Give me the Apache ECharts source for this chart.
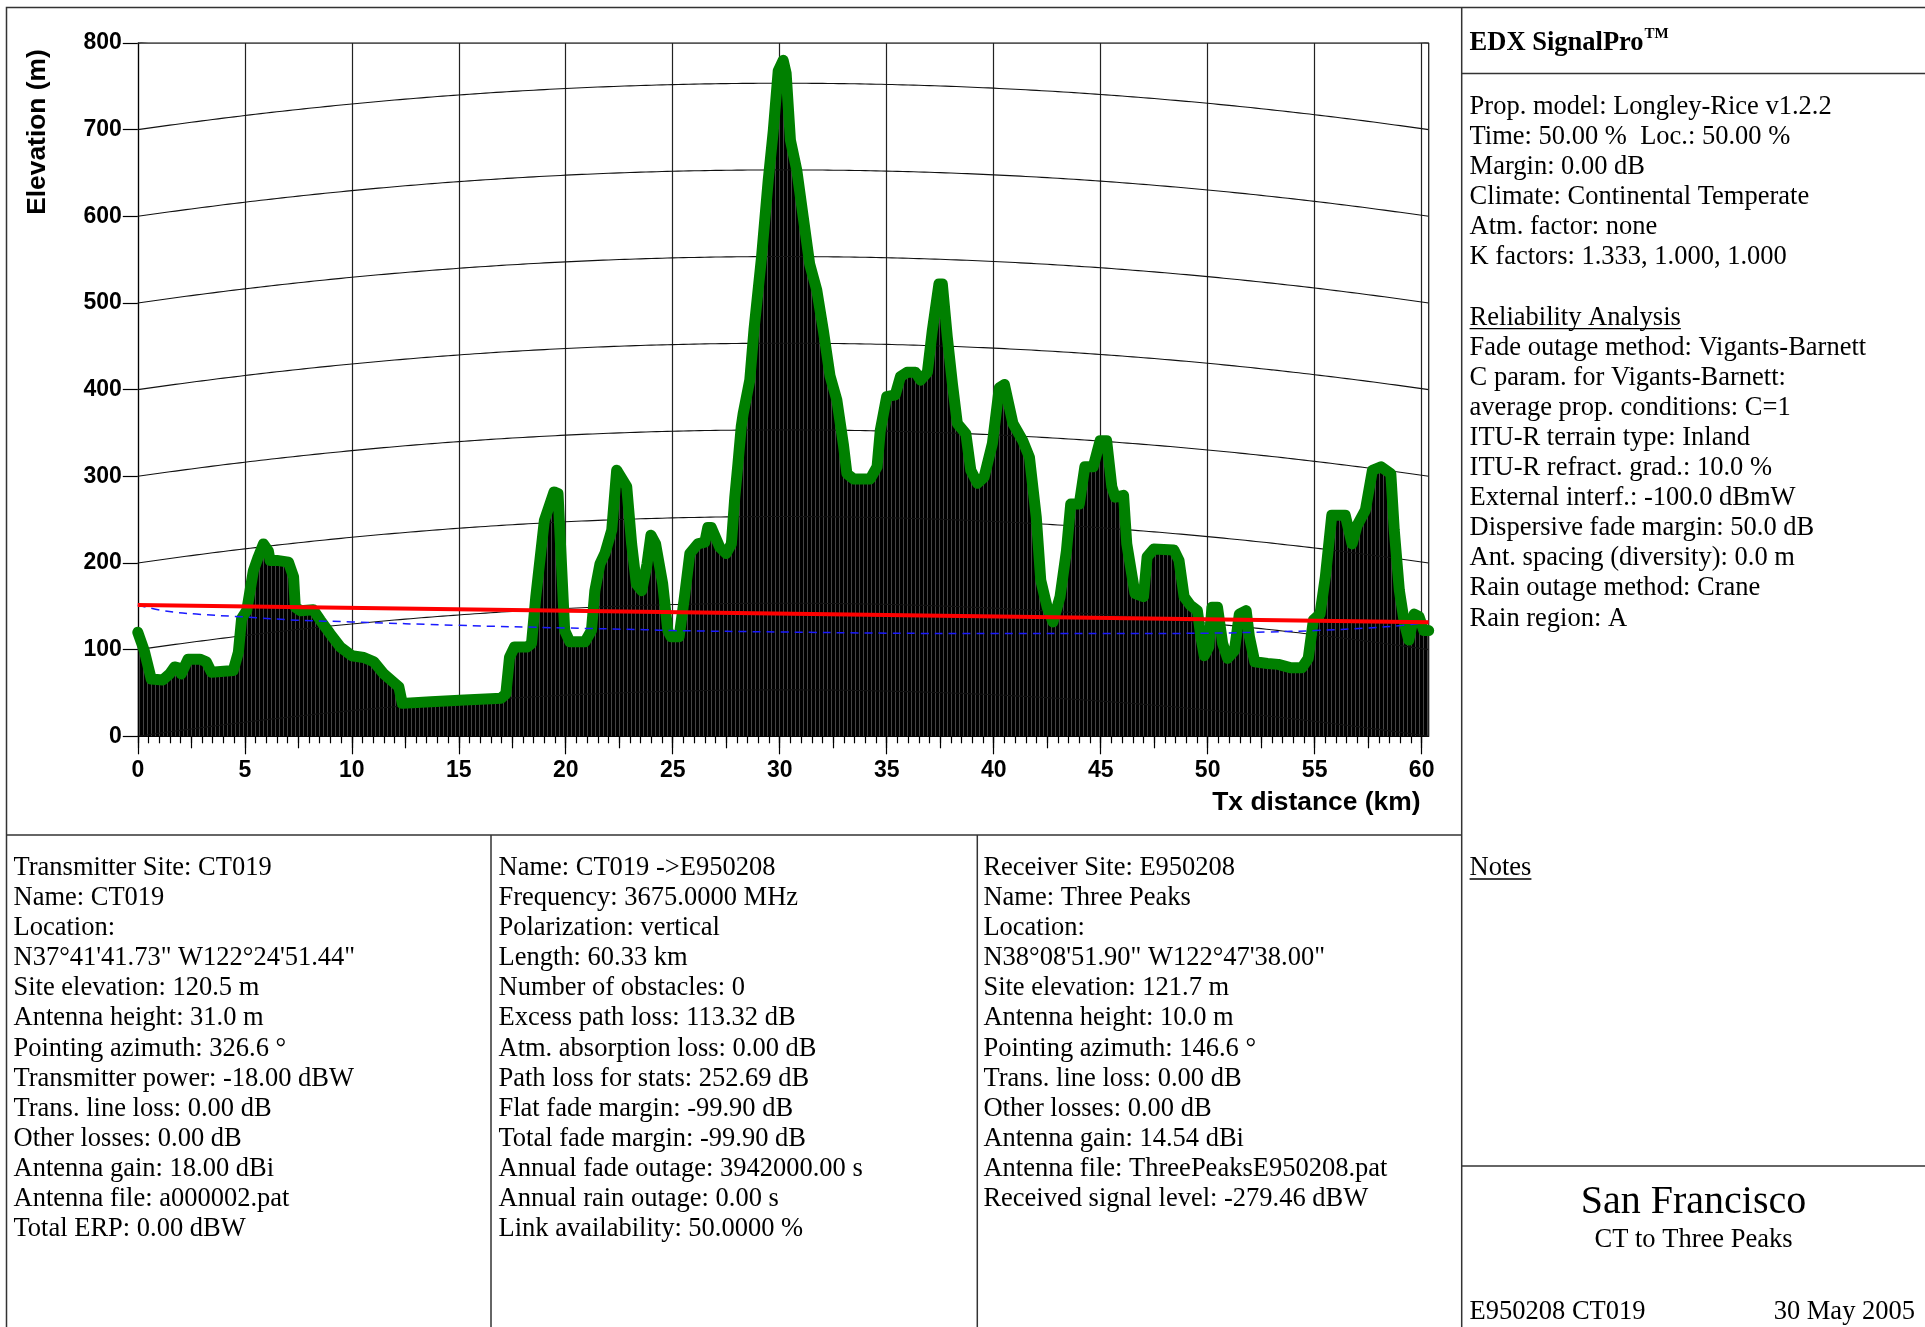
<!DOCTYPE html>
<html><head><meta charset="utf-8">
<script src="https://cdn.jsdelivr.net/npm/echarts@6/dist/echarts.min.js"></script>
<style>html,body{margin:0;padding:0;background:#fff}#c{width:1925px;height:1327px}</style>
</head><body><div id="c"></div>
<script>
// ---------------- data ----------------
const profileKm = [0,0.3,0.63,1.17,1.49,1.72,1.9,2.03,2.35,2.9,3.2,3.44,4.46,4.7,4.85,5.09,5.4,5.63,5.87,6.1,6.18,6.5,7.04,7.28,7.36,7.6,8.2,8.53,9.0,9.47,10.0,10.56,11.03,11.5,11.97,12.2,12.36,13.7,15.26,16.98,17.2,17.37,17.6,18.2,18.4,18.6,19.0,19.45,19.64,19.8,19.95,20.19,20.9,21.2,21.36,21.6,21.83,22.15,22.38,22.58,22.85,23.08,23.3,23.55,23.8,23.98,24.2,24.53,24.77,24.92,25.3,25.55,25.8,26.17,26.5,26.64,26.8,27.2,27.5,27.74,27.9,28.05,28.2,28.29,28.6,28.8,29.15,29.46,29.7,29.93,30.16,30.3,30.5,30.8,31.1,31.4,31.73,32.04,32.35,32.67,32.98,33.14,33.45,34.23,34.55,34.7,35.0,35.4,35.64,35.95,36.35,36.58,36.9,37.13,37.44,37.6,37.83,38.07,38.3,38.7,38.93,39.24,39.55,39.94,40.26,40.5,40.9,41.36,41.67,41.99,42.2,42.5,42.77,43.1,43.4,43.6,44.0,44.26,44.65,44.97,45.28,45.52,45.68,46.07,46.22,46.6,47.0,47.17,47.48,48.42,48.66,48.9,49.2,49.52,49.68,49.84,50.05,50.2,50.46,50.7,50.93,51.25,51.48,51.8,51.95,52.2,52.8,53.3,53.9,54.4,54.7,54.94,55.25,55.5,55.8,56.43,56.75,56.98,57.37,57.7,58.1,58.56,58.72,58.96,59.2,59.4,59.65,59.88,60.1,60.33];
const profileElev = [120,99,66,65,72,80,79,72,89,89,86,74,76,97,136,145,191,207,222,214,203,203,201,184,149,145,146,134,118,103,93,91,86,72,62,57,38,40,42,44,49,91,103,103,107,161,249,282,280,199,122,109,109,122,168,199,211,238,307,299,288,222,176,168,199,232,222,176,122,115,115,161,211,222,224,241,241,218,211,222,276,315,357,372,411,470,553,641,699,768,780,765,688,653,599,545,515,468,416,388,336,303,297,297,311,353,392,394,415,420,420,411,420,468,522,522,461,407,361,349,307,292,299,338,402,406,361,341,322,253,180,149,132,161,214,268,268,311,311,341,341,288,276,278,222,165,161,207,216,215,203,161,151,145,115,93,103,149,149,107,90,99,141,145,115,86,84,83,79,79,90,134,141,184,255,255,222,243,261,307,311,303,238,168,130,111,141,138,122,122];
const losKm = [0, 60.33];
const losElev = [151.5, 131.7];
const fresnelKm = [0,1.17,2.74,5,7.43,10,15,20,23.7,25,30,35,40,45,50,52.8,55,57.5,59.1,60.33];
const fresnelElev = [151.5,145,141,137.7,134,132,128,125,123,122,120.4,119,118.5,118.5,119,120.4,122,125,128,131.7];
const xTickLabels = [0,5,10,15,20,25,30,35,40,45,50,55,60];
const yTickLabels = [0,100,200,300,400,500,600,700,800];
const pathLengthKm = 60.33;
const kFactor = 1.333;
const earthRadiusKm = 6371;

const infoRight = ["Prop. model: Longley-Rice v1.2.2","Time: 50.00 %  Loc.: 50.00 %","Margin: 0.00 dB","Climate: Continental Temperate","Atm. factor: none","K factors: 1.333, 1.000, 1.000","","Reliability Analysis","Fade outage method: Vigants-Barnett","C param. for Vigants-Barnett:","average prop. conditions: C=1","ITU-R terrain type: Inland","ITU-R refract. grad.: 10.0 %","External interf.: -100.0 dBmW","Dispersive fade margin: 50.0 dB","Ant. spacing (diversity): 0.0 m","Rain outage method: Crane","Rain region: A"];
const infoTx = ["Transmitter Site: CT019","Name: CT019","Location:","N37°41'41.73\" W122°24'51.44\"","Site elevation: 120.5 m","Antenna height: 31.0 m","Pointing azimuth: 326.6 °","Transmitter power: -18.00 dBW","Trans. line loss: 0.00 dB","Other losses: 0.00 dB","Antenna gain: 18.00 dBi","Antenna file: a000002.pat","Total ERP: 0.00 dBW"];
const infoLink = ["Name: CT019 ->E950208","Frequency: 3675.0000 MHz","Polarization: vertical","Length: 60.33 km","Number of obstacles: 0","Excess path loss: 113.32 dB","Atm. absorption loss: 0.00 dB","Path loss for stats: 252.69 dB","Flat fade margin: -99.90 dB","Total fade margin: -99.90 dB","Annual fade outage: 3942000.00 s","Annual rain outage: 0.00 s","Link availability: 50.0000 %"];
const infoRx = ["Receiver Site: E950208","Name: Three Peaks","Location:","N38°08'51.90\" W122°47'38.00\"","Site elevation: 121.7 m","Antenna height: 10.0 m","Pointing azimuth: 146.6 °","Trans. line loss: 0.00 dB","Other losses: 0.00 dB","Antenna gain: 14.54 dBi","Antenna file: ThreePeaksE950208.pat","Received signal level: -279.46 dBW"];

// ---------------- helpers ----------------
const zip = (a, b) => a.map((v, i) => [v, b[i]]);
const SERIF = '"Liberation Serif","Times New Roman",serif';
const SANS = '"Liberation Sans",Arial,sans-serif';
const mctx = document.createElement('canvas').getContext('2d');
function tw(t, font) { mctx.font = font; return mctx.measureText(t).width; }

// earth-curvature reference lines (constant elevation above curved earth, K factor)
function bulge(d) { return d * (pathLengthKm - d) / (2 * kFactor * earthRadiusKm) * 1000; }
const curveSeries = yTickLabels.map(v => {
  const pts = [];
  for (let d = 0; d < pathLengthKm; d += 0.25) pts.push([d, v + bulge(d)]);
  pts.push([pathLengthKm, v]);
  return { type: 'line', data: pts, symbol: 'none', silent: true, z: 2,
    lineStyle: { color: '#111', width: 1.1 }, clip: true, animation: false };
});

// fill pattern (black with thin grey vertical hatching)
const pc = document.createElement('canvas'); pc.width = 4; pc.height = 4;
const pctx = pc.getContext('2d'); pctx.fillStyle = '#000'; pctx.fillRect(0, 0, 4, 4);
pctx.fillStyle = '#444'; pctx.fillRect(3, 0, 1, 4);

const tick05 = [], tick25 = [];
for (let v = 0; v <= 60.001; v += 0.5) tick05.push(+v.toFixed(1));
for (let v = 0; v <= 60.001; v += 2.5) tick25.push(+v.toFixed(1));

const GL = 137.8, GT = 43, GR = 1428.7, GB = 736.3;
const DY = 2.5; // vertical nudge for serif text

const chart = echarts.init(document.getElementById('c'), null, { renderer: 'canvas' });

// ---------------- text graphics ----------------
const F26 = '26.5px ' + SERIF;
const LH = 30.1;
const g = [];
function line(x1, y1, x2, y2) {
  g.push({ type: 'line', shape: { x1, y1, x2, y2 }, style: { stroke: '#333', lineWidth: 1.5 }, silent: true });
}
function text(x, y, t, font, align, va, extra) {
  g.push(Object.assign({ type: 'text', x, y, style: { text: t, font, fill: '#000', align: align || 'left', verticalAlign: va || 'middle' }, silent: true }, extra || {}));
}
// frame
g.push({ type: 'rect', shape: { x: 6.5, y: 7.5, width: 1940, height: 1340 }, style: { fill: 'none', stroke: '#333', lineWidth: 1.5 }, silent: true });
line(1461.7, 7.5, 1461.7, 1327);
line(6.5, 835, 1461.7, 835);
line(491, 835, 491, 1327);
line(977.3, 835, 977.3, 1327);
line(1461.7, 73.5, 1925, 73.5);
line(1461.7, 1166, 1925, 1166);

// axis titles
text(38, 132, 'Elevation (m)', 'bold 26.4px ' + SANS, 'center', 'middle', { rotation: Math.PI / 2 });
text(1420.5, 803, 'Tx distance (km)', 'bold 26.4px ' + SANS, 'right', 'middle');

// header
const hdrFont = 'bold 26.5px ' + SERIF;
text(1469.6, 41 + DY, 'EDX SignalPro', hdrFont);
text(1469.6 + tw('EDX SignalPro', hdrFont) + 1, 31.5 + DY, 'TM', 'bold 15px ' + SERIF);

// right info panel
infoRight.forEach((t, i) => { if (t) text(1469.6, 104.4 + DY + i * LH, t, F26); });
const ri = infoRight.indexOf('Reliability Analysis');
const ruY = 104.4 + DY + ri * LH + 11;
g.push({ type: 'line', shape: { x1: 1469.6, y1: ruY, x2: 1469.6 + tw('Reliability Analysis', F26), y2: ruY }, style: { stroke: '#000', lineWidth: 1.4 }, silent: true });

// bottom panels
infoTx.forEach((t, i) => text(13.5, 865.5 + DY + i * LH, t, F26));
infoLink.forEach((t, i) => text(498.5, 865.5 + DY + i * LH, t, F26));
infoRx.forEach((t, i) => text(983.4, 865.5 + DY + i * LH, t, F26));
text(1469.6, 865.5 + DY, 'Notes', F26);
g.push({ type: 'line', shape: { x1: 1469.6, y1: 876.5 + DY, x2: 1469.6 + tw('Notes', F26), y2: 876.5 + DY }, style: { stroke: '#000', lineWidth: 1.4 }, silent: true });

text(1693.5, 1200 + DY, 'San Francisco', '40px ' + SERIF, 'center');
text(1693.5, 1237.5 + DY, 'CT to Three Peaks', F26, 'center');
text(1469.6, 1310 + DY, 'E950208 CT019', F26);
text(1915, 1310 + DY, '30 May 2005', F26, 'right');

// ---------------- chart option ----------------
const axisBase = { type: 'value', min: 0, max: pathLengthKm, position: 'bottom', gridIndex: 0 };
chart.setOption({
  animation: false,
  backgroundColor: '#fff',
  grid: { left: GL, top: GT, width: GR - GL, height: GB - GT, containLabel: false },
  xAxis: [
    Object.assign({}, axisBase, {
      interval: 5,
      axisLine: { show: true, onZero: false, lineStyle: { color: '#000', width: 1.2 } },
      axisTick: { show: true, length: 18, customValues: xTickLabels, lineStyle: { color: '#000', width: 1.2 } },
      axisLabel: { show: true, customValues: xTickLabels, margin: 22.5, color: '#000', fontFamily: SANS, fontWeight: 'bold', fontSize: 23 },
      splitLine: { show: true, lineStyle: { color: '#222', width: 1.2 } }
    }),
    Object.assign({}, axisBase, {
      interval: 2.5,
      axisLine: { show: false, onZero: false },
      axisTick: { show: true, length: 12, customValues: tick25, lineStyle: { color: '#000', width: 1.2 } },
      axisLabel: { show: false }, splitLine: { show: false }
    }),
    Object.assign({}, axisBase, {
      interval: 0.5,
      axisLine: { show: false, onZero: false },
      axisTick: { show: true, length: 7, customValues: tick05, lineStyle: { color: '#000', width: 1.2 } },
      axisLabel: { show: false }, splitLine: { show: false }
    })
  ],
  yAxis: {
    type: 'value', min: 0, max: 800, interval: 100,
    axisLine: { show: true, onZero: false, lineStyle: { color: '#000', width: 1.2 } },
    axisTick: { show: true, length: 15, lineStyle: { color: '#000', width: 1.2 } },
    axisLabel: { margin: 16, color: '#000', fontFamily: SANS, fontWeight: 'bold', fontSize: 23 },
    splitLine: { show: false }
  },
  series: [
    { name: 'terrainFill', type: 'line', data: zip(profileKm, profileElev), symbol: 'none', z: 1, silent: true,
      lineStyle: { width: 0, opacity: 0 }, areaStyle: { color: { image: pc, repeat: 'repeat' }, opacity: 1 } },
    ...curveSeries,
    { name: 'frame', type: 'line', data: [[0, 800], [pathLengthKm, 800], [pathLengthKm, 0]], symbol: 'none', z: 2, silent: true,
      lineStyle: { color: '#222', width: 1.3 } },
    { name: 'terrain', type: 'line', data: zip(profileKm, profileElev), symbol: 'none', z: 3, silent: true,
      lineStyle: { color: '#008000', width: 11, cap: 'round', join: 'round' } },
    { name: 'fresnel', type: 'line', data: zip(fresnelKm, fresnelElev), symbol: 'none', smooth: 0.4, z: 4, silent: true,
      lineStyle: { color: '#1a1aff', width: 1.5, type: [8, 6] } },
    { name: 'los', type: 'line', data: zip(losKm, losElev), symbol: 'none', z: 5, silent: true,
      lineStyle: { color: '#ff0000', width: 4 } }
  ],
  graphic: { elements: g }
});
</script>
</body></html>
